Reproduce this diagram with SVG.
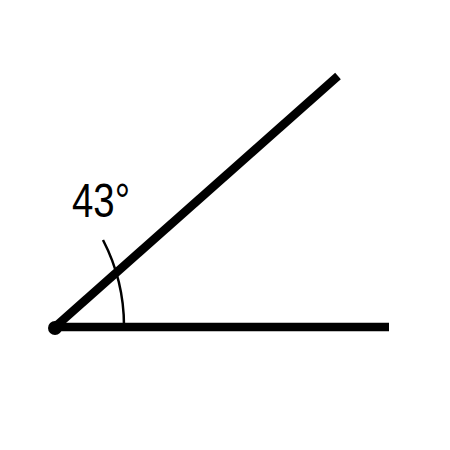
<svg xmlns="http://www.w3.org/2000/svg" width="450" height="450" viewBox="0 0 450 450">
<style>
.ray{stroke:#000;stroke-width:8.5;fill:none;stroke-linecap:butt}
.arc{stroke:#000;stroke-width:2.5;fill:none}
.lbl{font-family:"Liberation Sans",Arial,sans-serif;font-size:48px;fill:#000}
</style>
<rect width="450" height="450" fill="#fff"/>
<g id="connectors">
<line class="ray" x1="55" y1="327" x2="389" y2="327"/>
<line class="ray" x1="55" y1="327" x2="338" y2="76"/>
</g>
<g id="vertex">
<circle cx="55" cy="328" r="7" fill="#000"/>
</g>
<g id="angle">
<path class="arc" d="M 124 326 A 187 187 0 0 0 103 240"/>
<text class="lbl" x="72" y="217" textLength="58" lengthAdjust="spacingAndGlyphs">43°</text>
</g>
</svg>
